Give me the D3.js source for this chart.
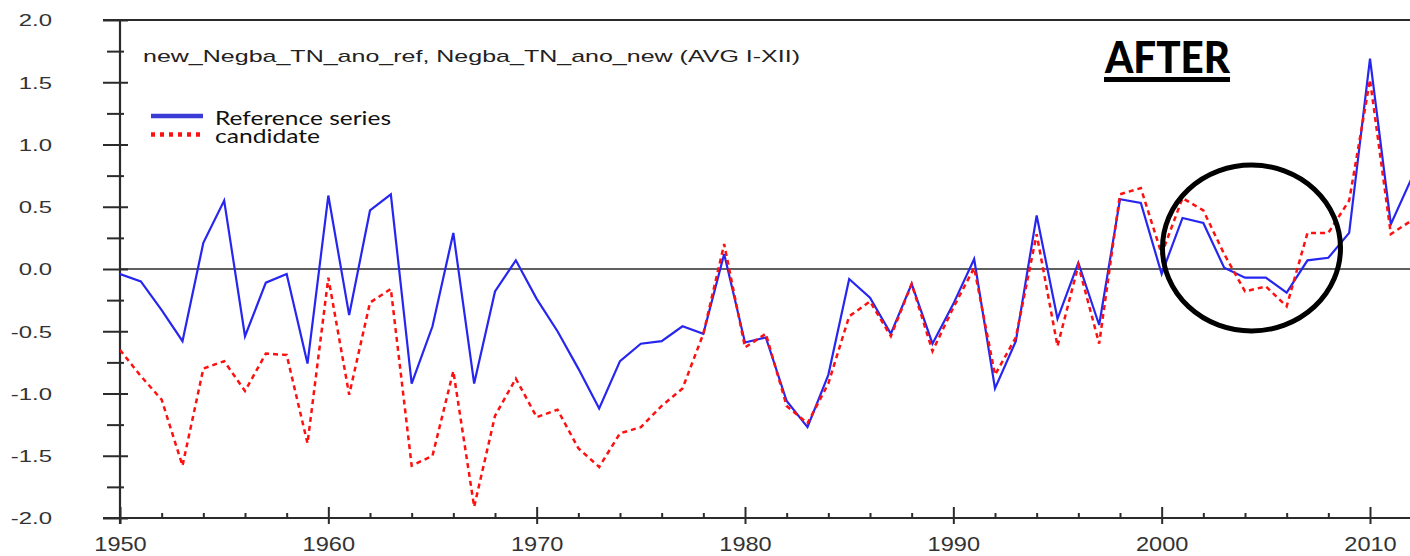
<!DOCTYPE html>
<html>
<head>
<meta charset="utf-8">
<script src="https://cdn.jsdelivr.net/npm/d3@7"></script>
<style>
  html, body { margin: 0; padding: 0; background: #fff; }
  svg { display: block; }
</style>
</head>
<body>
<script>
// ---- data ----
const years = d3.range(1950, 2013);
const referenceSeries = [
  -0.04, -0.10, -0.33, -0.58, 0.21, 0.55, -0.54, -0.11, -0.04, -0.76,
   0.59, -0.37, 0.47, 0.60, -0.92, -0.46, 0.29, -0.92, -0.18, 0.07,
  -0.24, -0.50, -0.80, -1.12, -0.74, -0.60, -0.58, -0.46, -0.52, 0.12,
  -0.59, -0.55, -1.06, -1.27, -0.85, -0.08, -0.23, -0.52, -0.12, -0.60,
  -0.28, 0.08, -0.96, -0.58, 0.43, -0.40, 0.05, -0.45, 0.56, 0.53,
  -0.04, 0.41, 0.37, 0.01, -0.07, -0.07, -0.19, 0.07, 0.09, 0.29,
   1.69, 0.36, 0.73
];
const candidateSeries = [
  -0.65, -0.86, -1.05, -1.58, -0.80, -0.74, -0.98, -0.68, -0.69, -1.40,
  -0.07, -1.01, -0.27, -0.16, -1.58, -1.50, -0.82, -1.91, -1.18, -0.88,
  -1.19, -1.13, -1.44, -1.59, -1.32, -1.27, -1.10, -0.96, -0.52, 0.20,
  -0.63, -0.52, -1.10, -1.24, -0.92, -0.38, -0.26, -0.54, -0.12, -0.66,
  -0.31, 0.01, -0.85, -0.55, 0.28, -0.62, 0.03, -0.60, 0.60, 0.65,
   0.12, 0.57, 0.47, 0.12, -0.18, -0.14, -0.30, 0.29, 0.29, 0.55,
   1.52, 0.28, 0.39
];
const xMajorTicks = [1950, 1960, 1970, 1980, 1990, 2000, 2010];
const xMinorTicks = d3.range(1952, 2013, 2).filter(v => v % 10 !== 0);
const yMajorTicks = [-2.0, -1.5, -1.0, -0.5, 0.0, 0.5, 1.0, 1.5, 2.0];
const yMinorTicks = [-1.75, -1.25, -0.75, -0.25, 0.25, 0.75, 1.25, 1.75];
const titleText = "new_Negba_TN_ano_ref, Negba_TN_ano_new (AVG I-XII)";
const legendLabels = ["Reference series", "candidate"];
const stampText = "AFTER";

// ---- layout ----
const W = 1410, H = 556;
const x = d3.scaleLinear().domain([1950, 2010]).range([120, 1370]);
const y = d3.scaleLinear().domain([-2, 2]).range([518, 20]);
const axisColor = "#2b2b2b";
const blue = "#2626f0";
const red = "#ff1010";

const svg = d3.select("body").append("svg").attr("width", W).attr("height", H);

svg.append("defs").append("clipPath").attr("id", "plotclip")
  .append("rect").attr("x", 120).attr("y", 0).attr("width", W - 120).attr("height", 518);

// top frame line
svg.append("line").attr("x1", 103).attr("x2", W).attr("y1", y(2)).attr("y2", y(2))
  .attr("stroke", axisColor).attr("stroke-width", 2);

// zero line
svg.append("line").attr("x1", 120).attr("x2", W).attr("y1", y(0)).attr("y2", y(0))
  .attr("stroke", axisColor).attr("stroke-width", 1.6);

// Y axis
const yAxisG = svg.append("g").attr("transform", "translate(120,0)")
  .call(d3.axisLeft(y).tickValues(yMajorTicks).tickFormat(d3.format(".1f")).tickSize(0).tickPadding(0));
yAxisG.select(".domain").attr("d", `M0,${y(2)}V${y(-2) + 6}`).attr("stroke", axisColor).attr("stroke-width", 2.2);
yAxisG.selectAll(".tick line").attr("x1", -17).attr("x2", 8).attr("stroke", axisColor).attr("stroke-width", 2);
yAxisG.selectAll(".tick text")
  .attr("x", -68 / 1.45).attr("dy", "0.36em").attr("text-anchor", "end")
  .attr("transform", "scale(1.45,1)")
  .attr("fill", "#333").style("font-family", "'Liberation Sans', Arial, sans-serif").style("font-size", "16.5px");
yAxisG.selectAll(".tick text").text(d => d.toFixed(1));

const yMinorG = svg.append("g").attr("transform", "translate(120,0)")
  .call(d3.axisLeft(y).tickValues(yMinorTicks).tickFormat("").tickSize(0));
yMinorG.select(".domain").remove();
yMinorG.selectAll(".tick line").attr("x1", -13).attr("x2", 4).attr("stroke", axisColor).attr("stroke-width", 2);

// X axis
const xAxisG = svg.append("g").attr("transform", `translate(0,${y(-2)})`)
  .call(d3.axisBottom(x).tickValues(xMajorTicks).tickFormat(d3.format("d")).tickSize(0).tickPadding(0));
xAxisG.select(".domain").attr("d", `M103,0H${W}`).attr("stroke", axisColor).attr("stroke-width", 2);
xAxisG.selectAll(".tick line").attr("y1", -11).attr("y2", 6).attr("stroke", axisColor).attr("stroke-width", 2);
xAxisG.selectAll(".tick text")
  .attr("y", 33.5).attr("dy", 0).attr("text-anchor", "middle")
  .attr("transform", "scale(1.18,1)")
  .attr("fill", "#333").style("font-family", "'Liberation Sans', Arial, sans-serif").style("font-size", "20px");

const xMinorG = svg.append("g").attr("transform", `translate(0,${y(-2)})`)
  .call(d3.axisBottom(x).tickValues(xMinorTicks).tickFormat("").tickSize(0));
xMinorG.select(".domain").remove();
xMinorG.selectAll(".tick line").attr("y1", -5).attr("y2", 0).attr("stroke", axisColor).attr("stroke-width", 2);

// series
const line = d3.line().x((d, i) => x(years[i])).y(d => y(d));
const plot = svg.append("g").attr("clip-path", "url(#plotclip)");
plot.append("path").datum(referenceSeries).attr("d", line)
  .attr("fill", "none").attr("stroke", blue).attr("stroke-width", 2.2).attr("stroke-linejoin", "miter");
plot.append("path").datum(candidateSeries).attr("d", line)
  .attr("fill", "none").attr("stroke", red).attr("stroke-width", 2.5).attr("stroke-dasharray", "5,4");

// title
svg.append("text").attr("x", 143).attr("y", 62).text(titleText)
  .attr("textLength", 657).attr("lengthAdjust", "spacingAndGlyphs")
  .attr("fill", "#222").style("font-family", "'Liberation Sans', Arial, sans-serif").style("font-size", "17px");

// legend
svg.append("line").attr("x1", 151).attr("x2", 203).attr("y1", 116).attr("y2", 116)
  .attr("stroke", "#3b3bd6").attr("stroke-width", 4.5);
svg.append("line").attr("x1", 151).attr("x2", 203).attr("y1", 134.5).attr("y2", 134.5)
  .attr("stroke", red).attr("stroke-width", 4.5).attr("stroke-dasharray", "4,5");
svg.append("text").attr("x", 215).attr("y", 125).text(legendLabels[0])
  .attr("textLength", 176).attr("lengthAdjust", "spacingAndGlyphs")
  .attr("fill", "#111").style("font-family", "Lato, 'Open Sans', sans-serif").style("font-size", "20px");
svg.append("text").attr("x", 215).attr("y", 143).text(legendLabels[1])
  .attr("textLength", 105).attr("lengthAdjust", "spacingAndGlyphs")
  .attr("fill", "#111").style("font-family", "Lato, 'Open Sans', sans-serif").style("font-size", "20px");

// AFTER stamp
svg.append("text").attr("x", 1105).attr("y", 73).text(stampText)
  .attr("textLength", 125).attr("lengthAdjust", "spacingAndGlyphs")
  .attr("fill", "#000").style("font-family", "Lato, 'Open Sans', sans-serif").style("font-weight", "900").style("font-size", "43px");
svg.append("rect").attr("x", 1104).attr("y", 77).attr("width", 126).attr("height", 5).attr("fill", "#000");

// highlight ellipse
svg.append("ellipse").attr("cx", 1251.5).attr("cy", 248).attr("rx", 89).attr("ry", 83)
  .attr("fill", "none").attr("stroke", "#000").attr("stroke-width", 5);
</script>
</body>
</html>
